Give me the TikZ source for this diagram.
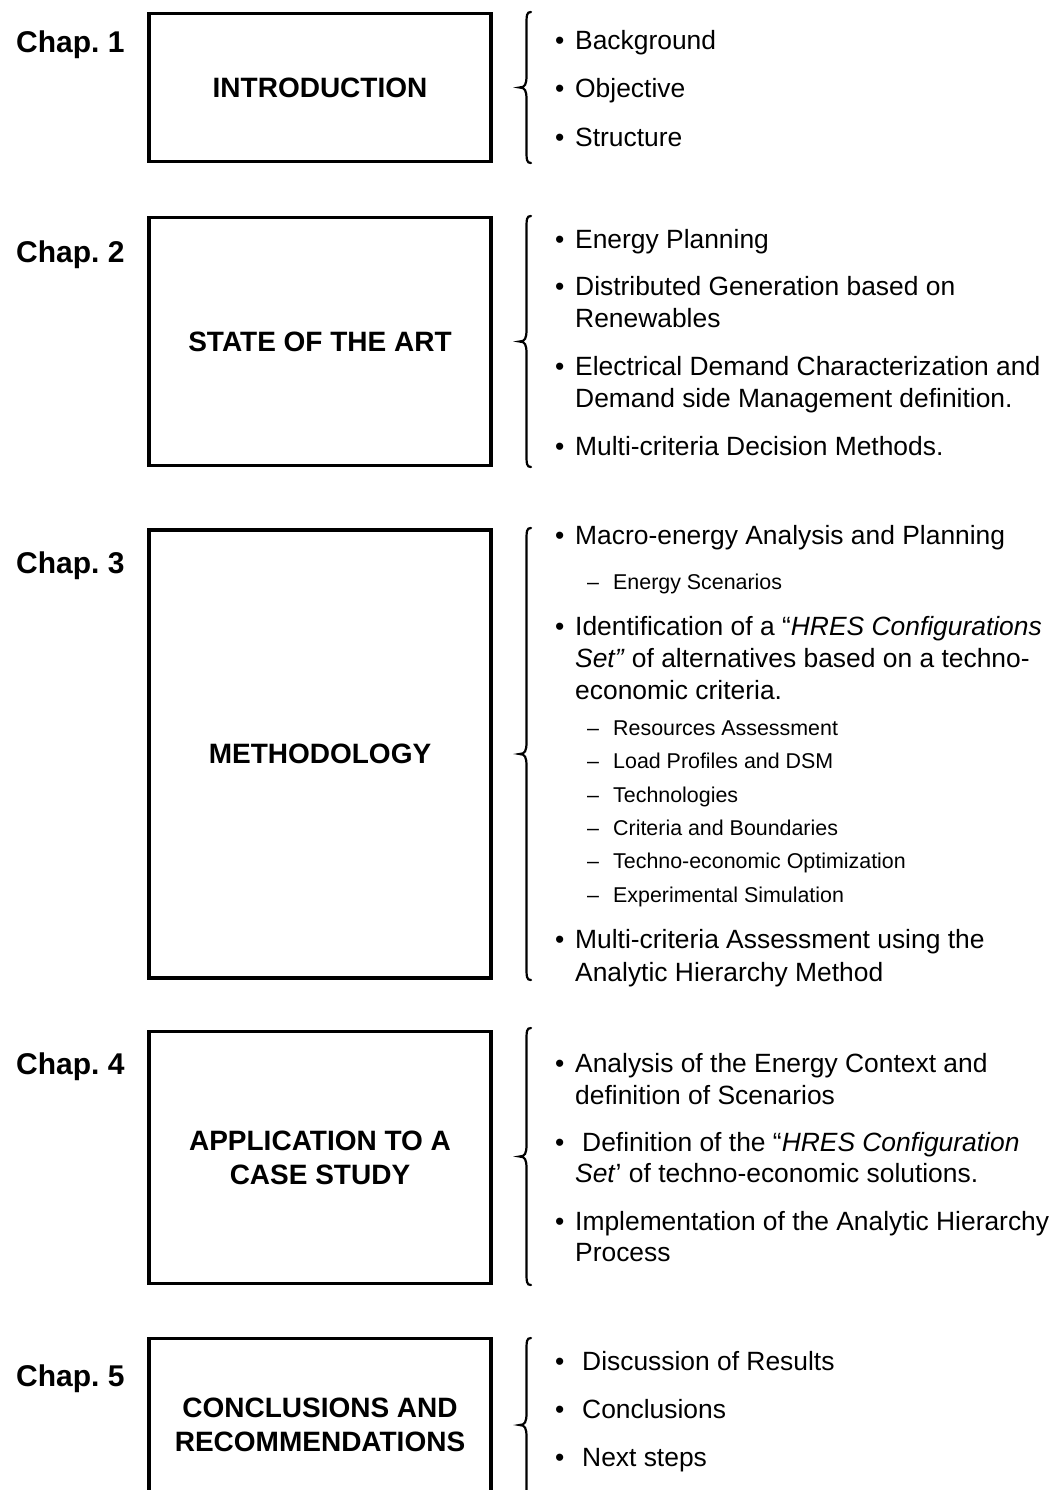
\documentclass[tikz,border=0pt]{standalone}
\usepackage{fontspec}
\setmainfont{Liberation Sans}

% curly brace opening to the right; #1 = top, #2 = bottom (y grows downwards)
\newcommand\chapbrace[2]{%
  \pgfmathsetmacro\bmid{(#1+#2)/2}%
  \draw[bracestyle] (531,#1) .. controls (526.5,#1) and (526.5,#1+3) .. (526.5,#1+14)
    -- (526.5,\bmid-12) .. controls (526.5,\bmid-3) and (525,\bmid) .. (519.5,\bmid)
    .. controls (525,\bmid) and (526.5,\bmid+3) .. (526.5,\bmid+12)
    -- (526.5,#2-14) .. controls (526.5,#2-3) and (526.5,#2) .. (531,#2);}

\begin{document}
\begin{tikzpicture}[x=1pt,y=-1pt,
  chaplabel/.style={anchor=base west, inner sep=0pt, font=\fontsize{30}{36}\selectfont\bfseries},
  chapbox/.style={draw, line width=3.5pt, minimum width=342pt, align=center,
                  font=\fontsize{28}{34}\selectfont\bfseries},
  bul/.style={anchor=base west, inner sep=0pt, font=\fontsize{26.4}{32}\selectfont},
  txt/.style={anchor=base west, inner sep=0pt, font=\fontsize{26.4}{32}\selectfont},
  subdash/.style={anchor=base west, inner sep=0pt, font=\fontsize{21.4}{26}\selectfont},
  subtxt/.style={anchor=base west, inner sep=0pt, font=\fontsize{21.4}{26}\selectfont},
  bracestyle/.style={line width=2.2pt, line cap=round}]

\useasboundingbox (0,0) rectangle (1052,1490);
\clip (0,0) rectangle (1052,1490);
\fill[white] (0,0) rectangle (1052,1490);

% ---------------- chapter labels ----------------
\node[chaplabel] (c1) at (16,53)   {Chap.\ 1};
\node[chaplabel] (c2) at (16,262)  {Chap.\ 2};
\node[chaplabel] (c3) at (16,573)  {Chap.\ 3};
\node[chaplabel] (c4) at (16,1074) {Chap.\ 4};
\node[chaplabel] (c5) at (16,1386) {Chap.\ 5};

% ---------------- chapter boxes ----------------
\node[chapbox, minimum height=148pt] (b1) at (320,87.5)   {INTRODUCTION};
\node[chapbox, minimum height=248pt] (b2) at (320,341.5)  {STATE OF THE ART};
\node[chapbox, minimum height=448pt] (b3) at (320,754)    {METHODOLOGY};
\node[chapbox, minimum height=252pt] (b4) at (320,1157.5) {APPLICATION TO A\\CASE STUDY};
\node[chapbox, minimum height=172pt] (b5) at (320,1424.5) {CONCLUSIONS AND\\RECOMMENDATIONS};

% ---------------- braces ----------------
\chapbrace{12}{163}
\chapbrace{216}{467}
\chapbrace{528}{980}
\chapbrace{1028}{1285}
\chapbrace{1338}{1512}

% ---------------- Chap. 1 contents ----------------
\node[bul] (d11) at (555,50)  {•};  \node[txt] (t11) at (575,50)  {Background};
\node[bul] (d12) at (555,98)  {•};  \node[txt] (t12) at (575,98)  {Objective};
\node[bul] (d13) at (555,147) {•};  \node[txt] (t13) at (575,147) {Structure};

% ---------------- Chap. 2 contents ----------------
\node[bul] (d21) at (555,248) {•};  \node[txt] (t21) at (575,248) {Energy Planning};
\node[bul] (d22) at (555,295) {•};  \node[txt] (t22) at (575,295) {Distributed Generation based on};
                                    \node[txt] (t22b) at (575,327) {Renewables};
\node[bul] (d23) at (555,375) {•};  \node[txt] (t23) at (575,375) {Electrical Demand Characterization and};
                                    \node[txt] (t23b) at (575,407) {Demand side Management definition.};
\node[bul] (d24) at (555,455) {•};  \node[txt] (t24) at (575,455) {Multi-criteria Decision Methods.};

% ---------------- Chap. 3 contents ----------------
\node[bul] (d31) at (555,544) {•};  \node[txt] (t31) at (575,544) {Macro-energy Analysis and Planning};
\node[subdash] (s311) at (587,589) {–}; \node[subtxt] (u311) at (613,589) {Energy Scenarios};
\node[bul] (d32) at (555,635) {•};  \node[txt] (t32) at (575,635) {Identification of a “\textit{HRES Configurations}};
                                    \node[txt] (t32b) at (575,667) {\textit{Set”} of alternatives based on a techno-};
                                    \node[txt] (t32c) at (575,699) {economic criteria.};
\node[subdash] (s321) at (587,735) {–}; \node[subtxt] (u321) at (613,735) {Resources Assessment};
\node[subdash] (s322) at (587,768) {–}; \node[subtxt] (u322) at (613,768) {Load Profiles and DSM};
\node[subdash] (s323) at (587,802) {–}; \node[subtxt] (u323) at (613,802) {Technologies};
\node[subdash] (s324) at (587,835) {–}; \node[subtxt] (u324) at (613,835) {Criteria and Boundaries};
\node[subdash] (s325) at (587,868) {–}; \node[subtxt] (u325) at (613,868) {Techno-economic Optimization};
\node[subdash] (s326) at (587,902) {–}; \node[subtxt] (u326) at (613,902) {Experimental Simulation};
\node[bul] (d33) at (555,948) {•};  \node[txt] (t33) at (575,948) {Multi-criteria Assessment using the};
                                    \node[txt] (t33b) at (575,981) {Analytic Hierarchy Method};

% ---------------- Chap. 4 contents ----------------
\node[bul] (d41) at (555,1072) {•}; \node[txt] (t41) at (575,1072) {Analysis of the Energy Context and};
                                    \node[txt] (t41b) at (575,1104) {definition of Scenarios};
\node[bul] (d42) at (555,1151) {•}; \node[txt] (t42) at (582,1151) {Definition of the “\textit{HRES Configuration}};
                                    \node[txt] (t42b) at (575,1182) {\textit{Set}’ of techno-economic solutions.};
\node[bul] (d43) at (555,1230) {•}; \node[txt] (t43) at (575,1230) {Implementation of the Analytic Hierarchy};
                                    \node[txt] (t43b) at (575,1261) {Process};

% ---------------- Chap. 5 contents ----------------
\node[bul] (d51) at (555,1370) {•}; \node[txt] (t51) at (582,1370) {Discussion of Results};
\node[bul] (d52) at (555,1418) {•}; \node[txt] (t52) at (582,1418) {Conclusions};
\node[bul] (d53) at (555,1466) {•}; \node[txt] (t53) at (582,1466) {Next steps};

\end{tikzpicture}
\end{document}
